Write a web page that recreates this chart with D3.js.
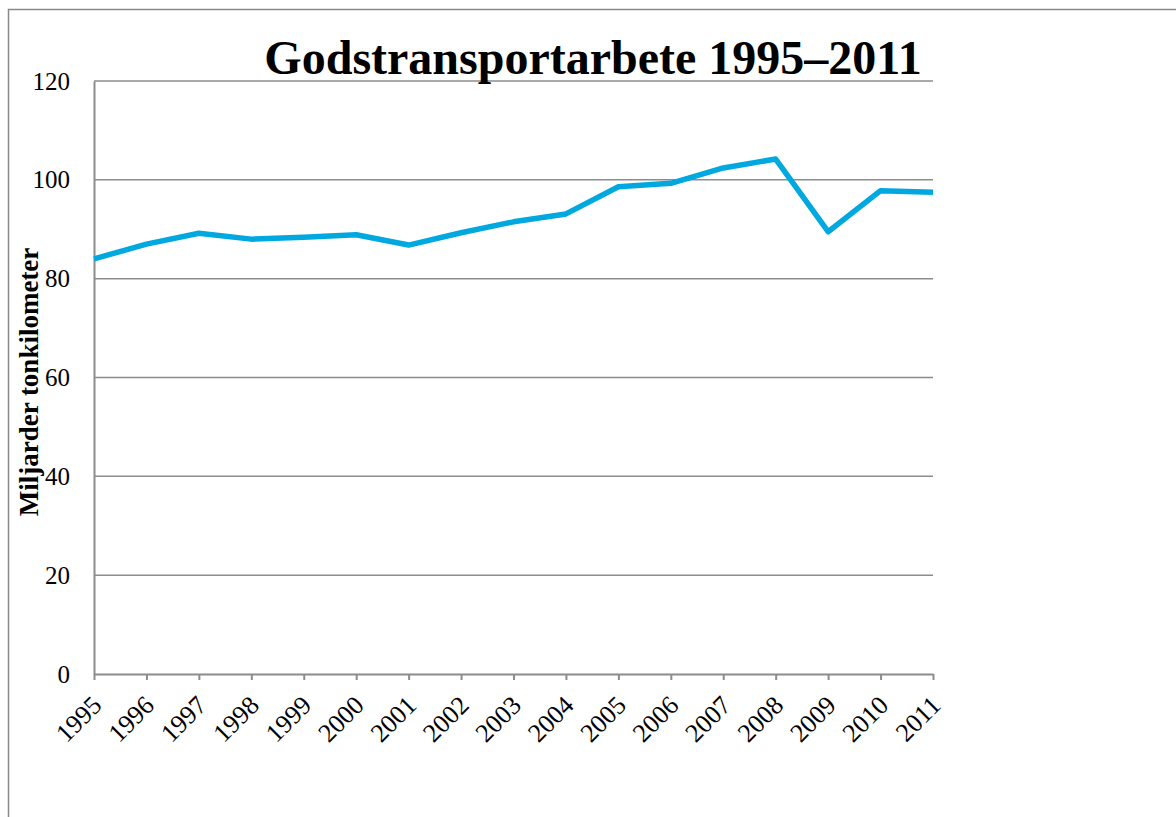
<!DOCTYPE html>
<html>
<head>
<meta charset="utf-8">
<script src="https://cdn.jsdelivr.net/npm/d3@7"></script>
<style>
  body { margin: 0; background: #fff; }
  svg { display: block; }
</style>
</head>
<body>
<div id="chart"></div>
<script>
let years = [1995, 1996, 1997, 1998, 1999, 2000, 2001, 2002, 2003, 2004, 2005, 2006, 2007, 2008, 2009, 2010, 2011];
let values = [84.0, 87.0, 89.2, 88.0, 88.4, 88.9, 86.8, 89.3, 91.5, 93.1, 98.6, 99.3, 102.4, 104.2, 89.5, 97.8, 97.5];
let yTicks = [0, 20, 40, 60, 80, 100, 120];

let W = 1176, H = 817;
let margin = {top: 81, left: 94, right: 243, bottom: 143};
let width = W - margin.left - margin.right;
let height = H - margin.top - margin.bottom;
let serif = "'Liberation Serif', 'Times New Roman', serif";

let svg = d3.select("#chart").append("svg")
  .attr("width", W)
  .attr("height", H)
  .style("font-family", serif);

// outer frame (only top and left visible)
svg.append("path")
  .attr("d", "M8.5," + H + "V9.5H" + W)
  .attr("fill", "none")
  .attr("stroke", "#888")
  .attr("stroke-width", 1.5);

let g = svg.append("g").attr("transform", "translate(" + margin.left + "," + margin.top + ")");

let x = d3.scalePoint().domain(years).range([0, width]);
let y = d3.scaleLinear().domain([0, 120]).range([height, 0]);

// gridlines
g.selectAll(".grid")
  .data(yTicks.filter(d => d > 0))
  .enter()
  .append("line")
  .attr("x1", 0)
  .attr("x2", width)
  .attr("y1", d => y(d))
  .attr("y2", d => y(d))
  .attr("stroke", "#8c8c8c")
  .attr("stroke-width", 1.5);

// y axis
let yAxis = g.append("g")
  .call(d3.axisLeft(y).tickValues(yTicks).tickSize(0).tickPadding(24))
  .attr("font-family", serif)
  .attr("font-size", 25);
yAxis.select(".domain").attr("stroke", "#8c8c8c").attr("stroke-width", 2);
yAxis.selectAll("text").attr("fill", "#000");

// x axis
let xAxis = g.append("g")
  .attr("transform", "translate(0," + height + ")")
  .call(d3.axisBottom(x).tickSize(6).tickSizeOuter(0))
  .attr("font-family", serif)
  .attr("font-size", 26);
xAxis.select(".domain").attr("stroke", "#8c8c8c").attr("stroke-width", 2);
xAxis.selectAll(".tick line").attr("stroke", "#8c8c8c").attr("stroke-width", 2);
xAxis.selectAll("text")
  .attr("fill", "#000")
  .attr("text-anchor", "end")
  .attr("dy", "0.35em")
  .attr("transform", "translate(-4,20) rotate(-45)");

// line
let line = d3.line()
  .x((d, i) => x(years[i]))
  .y(d => y(d));

g.append("path")
  .datum(values)
  .attr("d", line)
  .attr("fill", "none")
  .attr("stroke", "#00a8e0")
  .attr("stroke-width", 5.5)
  .attr("stroke-linejoin", "round");

// title
svg.append("text")
  .attr("x", 593)
  .attr("y", 74)
  .attr("text-anchor", "middle")
  .style("font-size", "48px")
  .style("font-weight", "bold")
  .text("Godstransportarbete 1995–2011");

// y axis title
svg.append("text")
  .attr("transform", "translate(38," + 382 + ") rotate(-90)")
  .attr("text-anchor", "middle")
  .style("font-size", "27px")
  .style("font-weight", "bold")
  .text("Miljarder tonkilometer");
</script>
</body>
</html>
